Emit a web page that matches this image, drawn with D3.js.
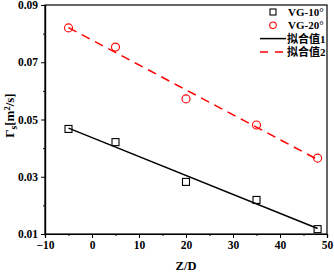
<!DOCTYPE html>
<html>
<head>
<meta charset="utf-8">
<script src="https://cdn.jsdelivr.net/npm/d3@7"></script>
<style>
  body { margin: 0; background: #fff; }
  text { font-family: "Liberation Serif", "Times New Roman", serif; font-weight: bold; }
</style>
</head>
<body>
<div id="chart"></div>
<script>
// data
const zd = [-5, 5, 20, 35, 48];
const vg10 = [0.0467, 0.0421, 0.0282, 0.0219, 0.0117];
const vg20 = [0.0820, 0.0753, 0.0572, 0.0481, 0.0365];
const fitX = [-5, 48];
const fit1 = [0.0470, 0.0119];
const fit2 = [0.0821, 0.0360];
const xTicks = [-10, 0, 10, 20, 30, 40, 50];
const yTicks = [0.01, 0.03, 0.05, 0.07, 0.09];

const W = 334, H = 272;
const margin = {top: 5, right: 7, bottom: 38, left: 45};
const width = W - margin.left - margin.right;
const height = H - margin.top - margin.bottom;

const svg = d3.select("#chart").append("svg")
    .attr("width", W)
    .attr("height", H);

const g = svg.append("g")
    .attr("transform", "translate(" + margin.left + "," + margin.top + ")");

const x = d3.scaleLinear().domain([-10, 50]).range([0, width]);
const y = d3.scaleLinear().domain([0.01, 0.09]).range([height, 0]);

// frame
g.append("rect")
    .attr("width", width)
    .attr("height", height)
    .attr("fill", "none")
    .attr("stroke", "#000")
    .attr("stroke-width", 1.2);

// axes
const xAxis = d3.axisBottom(x).tickValues(xTicks).tickSize(4).tickPadding(3).tickFormat(d3.format("d"));
const xMinor = d3.axisBottom(x).tickValues(d3.range(-5, 50, 10)).tickSize(2).tickFormat("");
const yAxis = d3.axisLeft(y).tickValues(yTicks).tickSize(4).tickPadding(3).tickFormat(d3.format(".2f"));
const yMinor = d3.axisLeft(y).tickValues([0.02, 0.04, 0.06, 0.08]).tickSize(2).tickFormat("");

[xAxis, xMinor].forEach(a => {
    g.append("g").attr("transform", "translate(0," + height + ")").call(a)
        .call(s => s.select(".domain").attr("stroke-width", 1.2));
});
[yAxis, yMinor].forEach(a => {
    g.append("g").call(a)
        .call(s => s.select(".domain").attr("stroke-width", 1.2));
});
g.selectAll(".tick text")
    .style("font-family", "'Liberation Serif', serif")
    .style("font-weight", "bold")
    .style("font-size", "11.5px")
    .attr("fill", "#000");

// fit lines
const line = d3.line().x(d => x(d[0])).y(d => y(d[1]));
g.append("path")
    .datum(fitX.map((v, i) => [v, fit1[i]]))
    .attr("d", line)
    .attr("fill", "none")
    .attr("stroke", "#000")
    .attr("stroke-width", 1.5);
g.append("path")
    .datum(fitX.map((v, i) => [v, fit2[i]]))
    .attr("d", line)
    .attr("fill", "none")
    .attr("stroke", "#ff0000")
    .attr("stroke-width", 1.5)
    .attr("stroke-dasharray", "9,6");

// markers
g.selectAll(".sq").data(zd).enter().append("rect")
    .attr("class", "sq")
    .attr("x", (d) => x(d) - 3.5)
    .attr("y", (d, i) => y(vg10[i]) - 3.5)
    .attr("width", 7)
    .attr("height", 7)
    .attr("fill", "none")
    .attr("stroke", "#000")
    .attr("stroke-width", 1.1);
g.selectAll(".ci").data(zd).enter().append("circle")
    .attr("class", "ci")
    .attr("cx", d => x(d))
    .attr("cy", (d, i) => y(vg20[i]))
    .attr("r", 4)
    .attr("fill", "none")
    .attr("stroke", "#ff0000")
    .attr("stroke-width", 1.1);

// axis titles
svg.append("text")
    .attr("x", margin.left + width / 2)
    .attr("y", 270)
    .attr("text-anchor", "middle")
    .style("font-size", "12.5px")
    .text("Z/D");

const yt = svg.append("text")
    .attr("transform", "translate(14," + (margin.top + height / 2 - 4) + ") rotate(-90)")
    .attr("text-anchor", "middle")
    .style("font-size", "13px");
yt.append("tspan").text("Γ");
yt.append("tspan").attr("dy", 3).style("font-size", "9.5px").text("s");
yt.append("tspan").attr("dy", -3).text("[m");
yt.append("tspan").attr("dy", -4).style("font-size", "8.5px").text("2");
yt.append("tspan").attr("dy", 4).text("/s]");

// legend
const legend = svg.append("g").attr("transform", "translate(258,12)");
const rows = [
    {label: "VG-10°", type: "sq"},
    {label: "VG-20°", type: "ci"},
    {label: "拟合值1", type: "solid"},
    {label: "拟合值2", type: "dash"}
];
rows.forEach((r, i) => {
    const row = legend.append("g").attr("transform", "translate(0," + i * 13.3 + ")");
    if (r.type === "sq") {
        row.append("rect").attr("x", 12).attr("y", -3).attr("width", 6).attr("height", 6)
            .attr("fill", "none").attr("stroke", "#000").attr("stroke-width", 1.1);
    } else if (r.type === "ci") {
        row.append("circle").attr("cx", 15).attr("cy", 0).attr("r", 3.3)
            .attr("fill", "none").attr("stroke", "#ff0000").attr("stroke-width", 1.1);
    } else {
        row.append("line").attr("x1", 2).attr("x2", 28).attr("y1", 0).attr("y2", 0)
            .attr("stroke", r.type === "solid" ? "#000" : "#ff0000")
            .attr("stroke-width", 1.5)
            .attr("stroke-dasharray", r.type === "dash" ? "8,7" : null);
    }
    row.append("text")
        .attr("x", r.type === "sq" || r.type === "ci" ? 30 : 29)
        .attr("y", 4)
        .style("font-size", "11px")
        .style("font-family", r.type === "sq" || r.type === "ci" ? "'Liberation Serif', serif" : "'Liberation Serif', 'Noto Sans CJK SC', serif")
        .text(r.label);
});
</script>
</body>
</html>
